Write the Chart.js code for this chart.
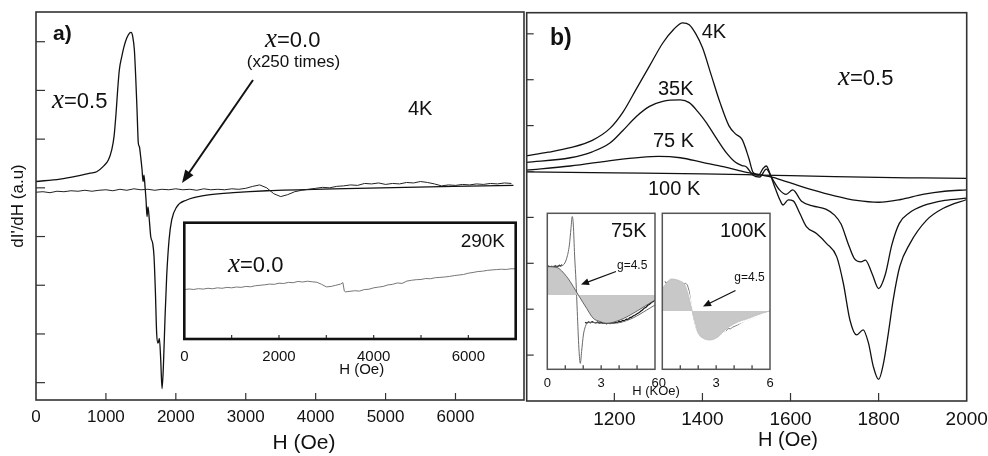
<!DOCTYPE html>
<html><head><meta charset="utf-8">
<script src="https://cdn.jsdelivr.net/npm/chart.js@4.4.1/dist/chart.umd.min.js"></script>
<style>
html,body{margin:0;padding:0;background:#fff;}
body{width:988px;height:456px;position:relative;overflow:hidden;}
canvas{position:absolute;}
</style></head><body>
<canvas id="cA" width="526" height="456" style="left:0px;top:0px"></canvas>
<canvas id="cAi" width="366" height="180" style="left:160px;top:210px"></canvas>
<canvas id="cB" width="486" height="456" style="left:510px;top:0px"></canvas>
<canvas id="cB1" width="135" height="200" style="left:530px;top:200px"></canvas>
<canvas id="cB2" width="135" height="200" style="left:650px;top:200px"></canvas>
<script>
const F = '"Liberation Sans", Arial, Helvetica, sans-serif';
const S = '"Liberation Serif", "Times New Roman", serif';

// ---------- Panel a : x=0.5 at 4K ----------
const a05H = [0,343,582,773,868,963,1035,1083,1116,1145,1168,1192,1226,1259,1297,1335,1359,1383,1407,1426,1445,1464,1478,1497,1517,1531,1545,1559,1574,1588,1602,1621,1641,1669,1688,1707,1726,1745,1765,1784,1803,1822,1846,1869,1903,1941,2013,2156,2442,2823,3300,4254,6829];
const a05V = [4.13,4.18,4.24,4.30,4.33,4.44,4.57,4.78,5.05,5.53,6.01,6.42,6.69,6.90,7.07,7.17,7.19,7.11,6.83,6.28,5.60,4.91,4.85,4.64,4.37,4.13,4.26,4.03,3.75,3.41,3.61,3.34,3.00,2.86,2.59,1.90,1.01,0.81,0.91,0.47,-0.12,0.33,1.36,2.18,2.93,3.34,3.61,3.75,3.85,3.90,3.94,3.98,4.05];
// ---------- Panel a : x=0.0 (x250) at 4K ----------
const a00H = [0,100,200,300,400,500,600,700,800,900,1000,1100,1200,1300,1400,1500,1600,1700,1800,1900,2000,2100,2200,2300,2400,2500,2600,2700,2800,2900,3000,3100,3200,3300,3400,3500,3600,3700,3800,3900,4000,4100,4200,4300,4400,4500,4600,4700,4800,4900,5000,5100,5200,5300,5400,5500,5600,5700,5800,5900,6000,6100,6200,6300,6400,6500,6600,6700,6800];
const a00V = [3.91,3.92,3.90,3.93,3.92,3.94,3.93,3.95,3.93,3.95,3.96,3.94,3.97,3.95,3.98,3.96,3.97,3.95,3.97,3.96,3.98,3.96,3.97,3.95,3.98,3.96,3.97,3.96,3.98,3.97,3.99,4.03,4.06,4.00,3.88,3.82,3.86,3.92,3.95,3.97,3.99,4.01,4.00,4.03,4.04,4.06,4.05,4.09,4.08,4.10,4.07,4.09,4.08,4.11,4.10,4.13,4.11,4.08,4.04,4.06,4.05,4.07,4.06,4.08,4.07,4.09,4.08,4.10,4.09];
const aXTicks = [0,1000,2000,3000,4000,5000,6000];
const aYTicks = [0,1,2,3,4,5,6,7];
// ---------- Panel a inset : x=0.0 at 290K ----------
const aiH = [0,100,200,300,400,500,600,700,800,900,1000,1100,1200,1300,1400,1500,1600,1700,1800,1900,2000,2100,2200,2300,2400,2500,2600,2700,2800,2900,3000,3100,3200,3300,3350,3380,3400,3500,3600,3700,3800,3900,4000,4100,4200,4300,4400,4500,4600,4700,4800,4900,5000,5100,5200,5300,5400,5500,5600,5700,5800,5900,6000,6100,6200,6300,6400,6500,6600,6700,6800,6900,7000];
const aiV = [.425,.430,.426,.433,.429,.436,.432,.440,.436,.444,.440,.447,.444,.452,.449,.458,.462,.466,.472,.470,.480,.477,.487,.484,.495,.490,.497,.492,.488,.470,.448,.452,.462,.472,.485,.412,.405,.410,.415,.412,.425,.428,.440,.446,.452,.465,.470,.482,.478,.498,.505,.510,.512,.520,.518,.527,.530,.533,.538,.545,.550,.555,.566,.572,.580,.583,.590,.594,.597,.600,.598,.604,.603];
const aiXTicks = [0,1000,2000,3000,4000,5000,6000,7000];

// ---------- Panel b : x=0.5 at 4K, 35K, 75K, 100K ----------
const b4H = [1000,1050,1100,1150,1190,1220,1250,1280,1310,1335,1355,1370,1385,1400,1420,1440,1460,1475,1490,1505,1515,1527,1538,1545,1553,1564,1576,1583,1595,1606,1621,1636,1659,1682,1705,1720,1735,1750,1765,1777,1788,1800,1811,1822,1833,1848,1871,1909,1947,2000];
const b4V = [5.34,5.42,5.52,5.68,5.94,6.30,6.80,7.30,7.80,8.10,8.24,8.20,8.00,7.70,7.10,6.50,6.00,5.82,5.70,5.30,4.98,4.92,5.07,5.12,4.96,4.67,4.38,4.27,4.38,4.36,4.09,3.80,3.65,3.43,3.14,2.56,1.76,1.44,1.55,1.26,0.75,0.47,0.82,1.47,2.20,2.93,3.43,3.94,4.20,4.39];
const b35H = [1000,1100,1150,1190,1220,1250,1280,1310,1350,1370,1390,1410,1430,1455,1475,1490,1500,1515,1530,1545,1558,1575,1590,1605,1625,1650,1680,1700,1715,1730,1745,1760,1770,1785,1800,1815,1830,1847,1870,1900,1950,2000];
const b35V = [5.20,5.30,5.43,5.62,5.90,6.20,6.42,6.53,6.56,6.50,6.30,6.05,5.75,5.40,5.20,5.13,5.10,4.92,4.88,5.05,4.85,4.60,4.50,4.60,4.35,4.25,4.18,4.05,3.85,3.45,3.10,3.03,3.07,2.78,2.45,2.75,3.40,3.87,4.10,4.25,4.37,4.42];
const b75H = [1000,1100,1200,1260,1300,1350,1400,1450,1500,1530,1560,1600,1650,1700,1750,1800,1850,1900,1950,2000];
const b75V = [5.03,5.12,5.25,5.31,5.33,5.30,5.20,5.10,4.98,4.93,4.87,4.75,4.60,4.47,4.37,4.33,4.39,4.50,4.57,4.60];
const b100H = [1000,1200,1400,1500,1600,1700,1800,1900,2000];
const b100V = [4.99,4.97,4.95,4.93,4.91,4.89,4.87,4.86,4.85];
const bXTicks = [1200,1400,1600,1800,2000];
const bYTicks = [1,2,3,4,5,6,7,8];

// ---------- Panel b insets (H in kOe) ----------
const iXTicks = [0,1,2,3,4,5,6];
const i75FitH = [0,0.5,1.08,1.45,1.73,2.19,2.56,2.94,3.31,4.05,4.79,5.54,6.0];
const i75FitV = [0.658,0.654,0.594,0.530,0.476,0.391,0.327,0.306,0.295,0.316,0.359,0.412,0.444];
const i75Base = 0.476;
const i75MeasH = [0,0.3,0.6,0.89,1.08,1.23,1.32,1.39,1.45,1.52,1.60,1.67,1.76,1.84,1.91,2.01,2.12,2.28,2.56,3.31,4.05,4.79,5.54,6.0];
const i75MeasV = [0.658,0.660,0.662,0.669,0.712,0.797,0.904,0.979,0.925,0.733,0.562,0.370,0.135,0.038,0.113,0.220,0.274,0.301,0.300,0.294,0.300,0.330,0.380,0.412];
const i75DarkLH = [0,0.08,0.15,0.22,0.3,0.38,0.45,0.52,0.6,0.68,0.75,0.82];
const i75DarkLV = [.655,.662,.652,.660,.650,.658,.664,.654,.660,.667,.662,.670];
const i75DarkRH = [2.1,2.2,2.3,2.4,2.5,2.6,2.7,2.8,2.9,3.0,3.1,3.2,3.3,3.4,3.5,3.6,3.7,3.8,3.9,4.0,4.1,4.2,4.3,4.4,4.5,4.6,4.7,4.8,4.9,5.0,5.1,5.2,5.3,5.4,5.5,5.6,5.7,5.8,5.9,6.0];
const i75DarkRV = [.300,.296,.303,.298,.305,.300,.297,.303,.296,.300,.294,.298,.292,.297,.293,.299,.296,.302,.299,.308,.305,.314,.312,.322,.320,.331,.334,.343,.348,.356,.362,.372,.380,.392,.398,.410,.417,.428,.434,.445];

const i100FitH = [0,0.52,0.98,1.26,1.45,1.63,1.82,2.01,2.28,2.66,3.12,3.49,4.05,4.79,5.54,6.0];
const i100FitV = [0.519,0.579,0.566,0.541,0.476,0.391,0.306,0.231,0.199,0.188,0.209,0.252,0.295,0.327,0.359,0.374];
const i100Base = 0.374;
const i100WH = [1.3,1.5,1.7,1.9,2.1,2.4,2.8,3.2,3.4,3.45,3.52,3.6,4.0,4.8,5.5,6.0];
const i100WV = [.54,.47,.37,.27,.215,.19,.185,.20,.225,.185,.262,.268,.285,.318,.35,.37];
const i100NH = [0.15,0.2,0.3,0.4,0.5,0.6,0.7,0.8,0.9,1.0,1.1,1.2,1.3,1.4,1.5,1.6,1.7,1.8,1.9,2.0,2.1,2.2,2.3,2.4,2.5,2.6,2.7,2.8,2.9,3.0,3.1,3.2,3.3,3.4,3.5,3.6,3.7,3.8,3.9,4.0,4.2,4.4,4.6,4.8,5.0,5.2,5.4,5.6,5.8,6.0];
const i100NV = [.565,.552,.560,.548,.556,.545,.554,.547,.558,.549,.555,.546,.552,.540,.500,.420,.360,.305,.262,.232,.218,.212,.220,.210,.217,.222,.214,.226,.221,.233,.228,.240,.252,.244,.238,.255,.262,.258,.270,.274,.285,.298,.310,.318,.328,.336,.347,.355,.366,.374];

// ---------- helpers ----------
const xy = (xs, ys) => xs.map((x, i) => ({x: x, y: ys[i]}));
function ds(data, color, width, extra) {
  return Object.assign({data: data, borderColor: color, borderWidth: width, pointRadius: 0,
    fill: false, tension: 0, cubicInterpolationMode: 'monotone'}, extra || {});
}
function noisy(data, color, width) {
  return {data: data, borderColor: color, borderWidth: width, pointRadius: 0, fill: false, tension: 0};
}
function arrowPath(c, x1, y1, x2, y2, w, hl, hw) {
  const a = Math.atan2(y2 - y1, x2 - x1), ca = Math.cos(a), sa = Math.sin(a);
  c.lineWidth = w;
  c.beginPath(); c.moveTo(x1, y1); c.lineTo(x2 - ca * hl * 0.7, y2 - sa * hl * 0.7); c.stroke();
  c.beginPath(); c.moveTo(x2, y2);
  c.lineTo(x2 - hl * ca + hw * sa, y2 - hl * sa - hw * ca);
  c.lineTo(x2 - hl * ca - hw * sa, y2 - hl * sa + hw * ca);
  c.closePath(); c.fill();
}
function deco(cfg) {
  return {
    id: 'deco',
    beforeDraw(chart) {
      if (!cfg.bg) return;
      const a = chart.chartArea, c = chart.ctx;
      c.save(); c.fillStyle = cfg.bg; c.fillRect(a.left, a.top, a.right - a.left, a.bottom - a.top); c.restore();
    },
    afterDatasetsDraw(chart) {
      const a = chart.chartArea, c = chart.ctx, xs = chart.scales.x, ys = chart.scales.y;
      c.save();
      c.strokeStyle = cfg.tickColor || '#333'; c.lineWidth = cfg.tickWidth || 1.2;
      if (cfg.xLen) xs.ticks.forEach(t => {
        const p = xs.getPixelForValue(t.value);
        if (p < a.left + 2 || p > a.right - 2) return;
        c.beginPath(); c.moveTo(p, a.bottom); c.lineTo(p, a.bottom - cfg.xLen); c.stroke();
      });
      if (cfg.yLen) ys.ticks.forEach(t => {
        const p = ys.getPixelForValue(t.value);
        if (p < a.top + 2 || p > a.bottom - 2) return;
        c.beginPath(); c.moveTo(a.left, p); c.lineTo(a.left + cfg.yLen, p); c.stroke();
      });
      c.strokeStyle = cfg.frameColor || '#333'; c.lineWidth = cfg.frameWidth || 1.5;
      c.strokeRect(a.left, a.top, a.right - a.left, a.bottom - a.top);
      c.restore();
    },
    afterDraw(chart) {
      const c = chart.ctx, ox = cfg.ox || 0, oy = cfg.oy || 0;
      c.save();
      c.fillStyle = '#111'; c.strokeStyle = '#111'; c.textAlign = 'left'; c.textBaseline = 'alphabetic';
      (cfg.arrows || []).forEach(r => arrowPath(c, r[0] - ox, r[1] - oy, r[2] - ox, r[3] - oy, r[4], r[5], r[6]));
      (cfg.texts || []).forEach(it => {
        const ws = it.runs.map(r => { c.font = r[1]; return c.measureText(r[0]).width; });
        const tot = ws.reduce((s, v) => s + v, 0);
        let x = it.x - ox;
        if (it.align === 'center') x -= tot / 2; else if (it.align === 'right') x -= tot;
        it.runs.forEach((r, i) => { c.font = r[1]; c.fillStyle = it.color || '#111'; c.fillText(r[0], x, it.y - oy); x += ws[i]; });
      });
      c.restore();
    }
  };
}
const xeq = (rest, size, xs) => [['x', 'italic ' + xs + 'px ' + S], [rest, size + 'px ' + F]];
const common = {responsive: false, animation: false, events: [],
  plugins: {legend: {display: false}, tooltip: {enabled: false}}};
const noGrid = {display: false, drawTicks: false};

// ---------- Chart a ----------
new Chart(document.getElementById('cA'), {
  type: 'line',
  data: {datasets: [
    noisy(xy(a00H, a00V), '#222', 1),
    ds(xy(a05H, a05V), '#111', 1.3)
  ]},
  options: Object.assign({}, common, {
    layout: {padding: {left: 0, top: 12, right: 2, bottom: 0}},
    scales: {
      x: {type: 'linear', min: 0, max: 6980,
        afterBuildTicks: s => { s.ticks = aXTicks.map(v => ({value: v})); },
        afterFit: s => { s.height = 56; },
        grid: noGrid, border: {display: false},
        ticks: {autoSkip: false, maxRotation: 0, minRotation: 0, padding: 7, color: '#111',
          font: {family: F, size: 17}, callback: v => String(v)}},
      y: {type: 'linear', min: -0.356, max: 7.61,
        afterBuildTicks: s => { s.ticks = aYTicks.map(v => ({value: v})); },
        afterFit: s => { s.width = 36; },
        grid: noGrid, border: {display: false},
        ticks: {display: false},
        title: {display: true, text: "dI'/dH (a.u)", color: '#111', font: {family: F, size: 17}, padding: {top: 8, bottom: 0}}}
    }
  }),
  plugins: [deco({xLen: 7, yLen: 9, frameColor: '#333', frameWidth: 1.6,
    arrows: [[253, 80, 182, 183, 2, 13, 5]],
    texts: [
      {runs: [['a)', 'bold 21px ' + F]], x: 53, y: 40},
      {runs: xeq('=0.5', 22, 27), x: 52, y: 108},
      {runs: xeq('=0.0', 22, 27), x: 265, y: 46.5},
      {runs: [['(x250 times)', '17px ' + F]], x: 293.5, y: 67, align: 'center'},
      {runs: [['4K', '20px ' + F]], x: 408, y: 115},
      {runs: [['H (Oe)', '21px ' + F]], x: 304, y: 449, align: 'center'}
    ]})]
});

// ---------- Chart a inset ----------
new Chart(document.getElementById('cAi'), {
  type: 'line',
  data: {datasets: [noisy(xy(aiH, aiV), '#777', 1)]},
  options: Object.assign({}, common, {
    layout: {padding: {left: 24.3, top: 12.7, right: 10.3, bottom: 0}},
    scales: {
      x: {type: 'linear', min: 0, max: 7000,
        afterBuildTicks: s => { s.ticks = aiXTicks.map(v => ({value: v})); },
        afterFit: s => { s.height = 51; },
        grid: noGrid, border: {display: false},
        ticks: {autoSkip: false, maxRotation: 0, minRotation: 0, padding: 9, color: '#111',
          font: {family: F, size: 15}, callback: v => (v % 2000 === 0 ? String(v) : '')}},
      y: {type: 'linear', min: 0, max: 1, display: false}
    }
  }),
  plugins: [deco({bg: '#fff', xLen: 4, frameColor: '#111', frameWidth: 2.6, ox: 160, oy: 210,
    texts: [
      {runs: [['290K', '19px ' + F]], x: 505, y: 246.5, align: 'right'},
      {runs: xeq('=0.0', 22, 27), x: 228, y: 271.5},
      {runs: [['H (Oe)', '15px ' + F]], x: 361.7, y: 374, align: 'center'}
    ]})]
});

// ---------- Chart b ----------
new Chart(document.getElementById('cB'), {
  type: 'line',
  data: {datasets: [
    ds(xy(b100H, b100V), '#111', 1.3),
    ds(xy(b75H, b75V), '#111', 1.3),
    ds(xy(b35H, b35V), '#111', 1.3),
    ds(xy(b4H, b4V), '#111', 1.3)
  ]},
  options: Object.assign({}, common, {
    layout: {padding: {left: 0, top: 12.7, right: 29.3, bottom: 0}},
    scales: {
      x: {type: 'linear', min: 1001, max: 2000,
        afterBuildTicks: s => { s.ticks = bXTicks.map(v => ({value: v})); },
        afterFit: s => { s.height = 55; },
        grid: noGrid, border: {display: false},
        ticks: {autoSkip: false, maxRotation: 0, minRotation: 0, padding: 7, color: '#111',
          font: {family: F, size: 19}, callback: v => String(v)}},
      y: {type: 'linear', min: 0, max: 8.46,
        afterBuildTicks: s => { s.ticks = bYTicks.map(v => ({value: v})); },
        afterFit: s => { s.width = 16.7; },
        grid: noGrid, border: {display: false},
        ticks: {display: false}}
    }
  }),
  plugins: [deco({xLen: 8, yLen: 7, frameColor: '#333', frameWidth: 1.6, ox: 510, oy: 0,
    texts: [
      {runs: [['b)', 'bold 23px ' + F]], x: 550, y: 45},
      {runs: [['4K', '20px ' + F]], x: 701.7, y: 38.3},
      {runs: [['35K', '20px ' + F]], x: 658, y: 95},
      {runs: [['75 K', '20px ' + F]], x: 653, y: 146.7},
      {runs: [['100 K', '20px ' + F]], x: 648, y: 195},
      {runs: xeq('=0.5', 22, 27), x: 838, y: 85},
      {runs: [['H (Oe)', '20px ' + F]], x: 788, y: 446, align: 'center'},
      {runs: [['H (KOe)', '13px ' + F]], x: 656, y: 395, align: 'center'}
    ]})]
});

// ---------- Chart b inset 75K ----------
new Chart(document.getElementById('cB1'), {
  type: 'line',
  data: {datasets: [
    ds(xy(i75FitH, i75FitV), '#444', 0.8, {fill: {value: i75Base}, backgroundColor: '#c8c8c8'}),
    ds(xy(i75MeasH, i75MeasV), '#6a6a6a', 1),
    noisy(xy(i75DarkLH, i75DarkLV), '#111', 1.2),
    noisy(xy(i75DarkRH, i75DarkRV), '#111', 1.2)
  ]},
  options: Object.assign({}, common, {
    layout: {padding: {left: 17.3, top: 13.3, right: 10, bottom: 0}},
    scales: {
      x: {type: 'linear', min: 0, max: 6,
        afterBuildTicks: s => { s.ticks = iXTicks.map(v => ({value: v})); },
        afterFit: s => { s.height = 30.7; },
        grid: noGrid, border: {display: false},
        ticks: {autoSkip: false, maxRotation: 0, minRotation: 0, padding: 6, color: '#111',
          font: {family: F, size: 13}, callback: v => (v % 3 === 0 ? String(v) : '')}},
      y: {type: 'linear', min: 0, max: 1, display: false}
    }
  }),
  plugins: [deco({bg: '#fff', xLen: 4, frameColor: '#555', frameWidth: 1.5, ox: 530, oy: 200,
    arrows: [[616, 271.5, 581, 284.5, 1.3, 8, 3.5]],
    texts: [
      {runs: [['75K', '20px ' + F]], x: 646.5, y: 236.7, align: 'right'},
      {runs: [['g=4.5', '12px ' + F]], x: 617, y: 269}
    ]})]
});

// ---------- Chart b inset 100K ----------
new Chart(document.getElementById('cB2'), {
  type: 'line',
  data: {datasets: [
    ds(xy(i100FitH, i100FitV), '#bdbdbd', 0.8, {fill: {value: i100Base}, backgroundColor: '#c8c8c8'}),
    ds(xy(i100WH, i100WV), '#ffffff', 1.6),
    noisy(xy(i100NH, i100NV), '#7a7a7a', 1)
  ]},
  options: Object.assign({}, common, {
    layout: {padding: {left: 12.3, top: 13.3, right: 15, bottom: 0}},
    scales: {
      x: {type: 'linear', min: 0, max: 6,
        afterBuildTicks: s => { s.ticks = iXTicks.map(v => ({value: v})); },
        afterFit: s => { s.height = 30.7; },
        grid: noGrid, border: {display: false},
        ticks: {autoSkip: false, maxRotation: 0, minRotation: 0, padding: 6, color: '#111',
          font: {family: F, size: 13}, callback: v => (v % 3 === 0 ? String(v) : '')}},
      y: {type: 'linear', min: 0, max: 1, display: false}
    }
  }),
  plugins: [deco({bg: '#fff', xLen: 4, frameColor: '#555', frameWidth: 1.5, ox: 650, oy: 200,
    arrows: [[735.5, 290.5, 703, 306.5, 1.3, 8, 3.5]],
    texts: [
      {runs: [['100K', '20px ' + F]], x: 766.7, y: 236.7, align: 'right'},
      {runs: [['g=4.5', '12px ' + F]], x: 734.3, y: 280.5}
    ]})]
});
</script>
</body></html>
